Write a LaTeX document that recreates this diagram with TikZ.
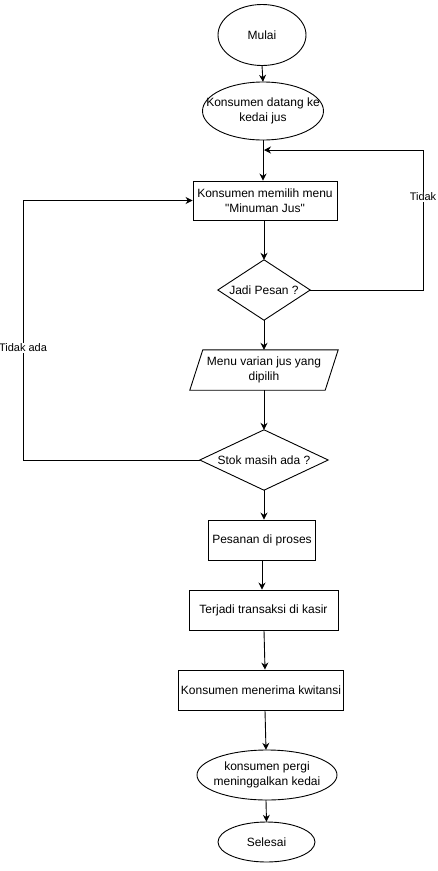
\documentclass[tikz,border=0pt]{standalone}
\usepackage{fontspec}
\setmainfont{Liberation Sans}
\newfontfamily\qf{Liberation Sans}
\usetikzlibrary{shapes.geometric,arrows.meta}
\begin{document}
\begin{tikzpicture}[x=1pt,y=-1pt,
  every node/.style={font=\fontsize{12}{14.5}\selectfont, align=center, inner sep=0pt},
  proc/.style={rectangle, draw, line width=0.9pt},
  ln/.style={line width=0.9pt},
  arr/.style={ln, -{Stealth[length=7pt,width=7pt]}},
  lbl/.style={fill=white, inner sep=1pt}]
\useasboundingbox (0,0) rectangle (437,871);
\fill[white] (0,0) rectangle (437,871);
\node[minimum width=88, minimum height=61] (mulai) at (262,35) {Mulai};
\draw[ln] (mulai.center) ellipse [x radius=44, y radius=30.5];
\node[minimum width=121, minimum height=58] (datang) at (263,111) {Konsumen datang ke\\kedai jus};
\draw[ln] (datang.center) ellipse [x radius=60.5, y radius=29];
\node[proc, minimum width=144, minimum height=39] (menu) at (265,200.5) {Konsumen memilih menu\\{\qf"}Minuman Jus{\qf"}};
\node[draw=none, minimum width=92, minimum height=60] (jadi) at (264,290) {Jadi Pesan ?};
\draw[ln] (jadi.north) -- (jadi.east) -- (jadi.south) -- (jadi.west) -- cycle;
\node[minimum width=148, minimum height=40] (varian) at (264,370) {Menu varian jus yang\\dipilih};
\draw[ln] ([xshift=13]varian.north west) -- (varian.north east) -- ([xshift=-13]varian.south east) -- (varian.south west) -- cycle;
\node[minimum width=128, minimum height=60] (stok) at (264,460) {Stok masih ada ?};
\draw[ln] (stok.north) -- (stok.east) -- (stok.south) -- (stok.west) -- cycle;
\node[proc, minimum width=107, minimum height=40] (proses) at (262,540) {Pesanan di proses};
\node[proc, minimum width=149, minimum height=40] (transaksi) at (263.5,610) {Terjadi transaksi di kasir};
\node[proc, minimum width=165, minimum height=40] (kwitansi) at (261,690) {Konsumen menerima kwitansi};
\node[minimum width=140, minimum height=50] (pergi) at (267,775) {konsumen pergi\\meninggalkan kedai};
\draw[ln] (pergi.center) ellipse [x radius=70, y radius=25];
\node[minimum width=97, minimum height=40] (selesai) at (266.5,842) {Selesai};
\draw[ln] (selesai.center) ellipse [x radius=48.5, y radius=20];
\coordinate (tk) at (423,150);
\coordinate (mid) at (264,150);
\coordinate (lk) at (23,460);
\draw[arr] (mulai.south) -- (datang.north);
\draw[arr] (datang.south) -- (datang.south |- menu.north);
\draw[arr] (jadi.east) -- (jadi.east -| tk) -- (tk) -- (mid);
\node[lbl] (tidak) at (423,197) {\fontsize{11}{13}\selectfont Tidak};
\draw[arr] (menu.south -| jadi.north) -- (jadi.north);
\draw[arr] (jadi.south) -- (varian.north);
\draw[arr] (varian.south) -- (stok.north);
\draw[arr] (stok.west) -- (lk) -- (lk |- menu.west) -- (menu.west);
\node[lbl] (tidakada) at (23,348) {\fontsize{11}{13}\selectfont Tidak ada};
\draw[arr] (stok.south) -- (stok.south |- proses.north);
\draw[arr] (proses.south) -- (proses.south |- transaksi.north);
\draw[arr] ([xshift=0.5]transaksi.south) -- ([xshift=4]kwitansi.north);
\draw[arr] ([xshift=4]kwitansi.south) -- ([xshift=-1]pergi.north);
\draw[arr] ([xshift=-1]pergi.south) -- (selesai.north);
\end{tikzpicture}
\end{document}
